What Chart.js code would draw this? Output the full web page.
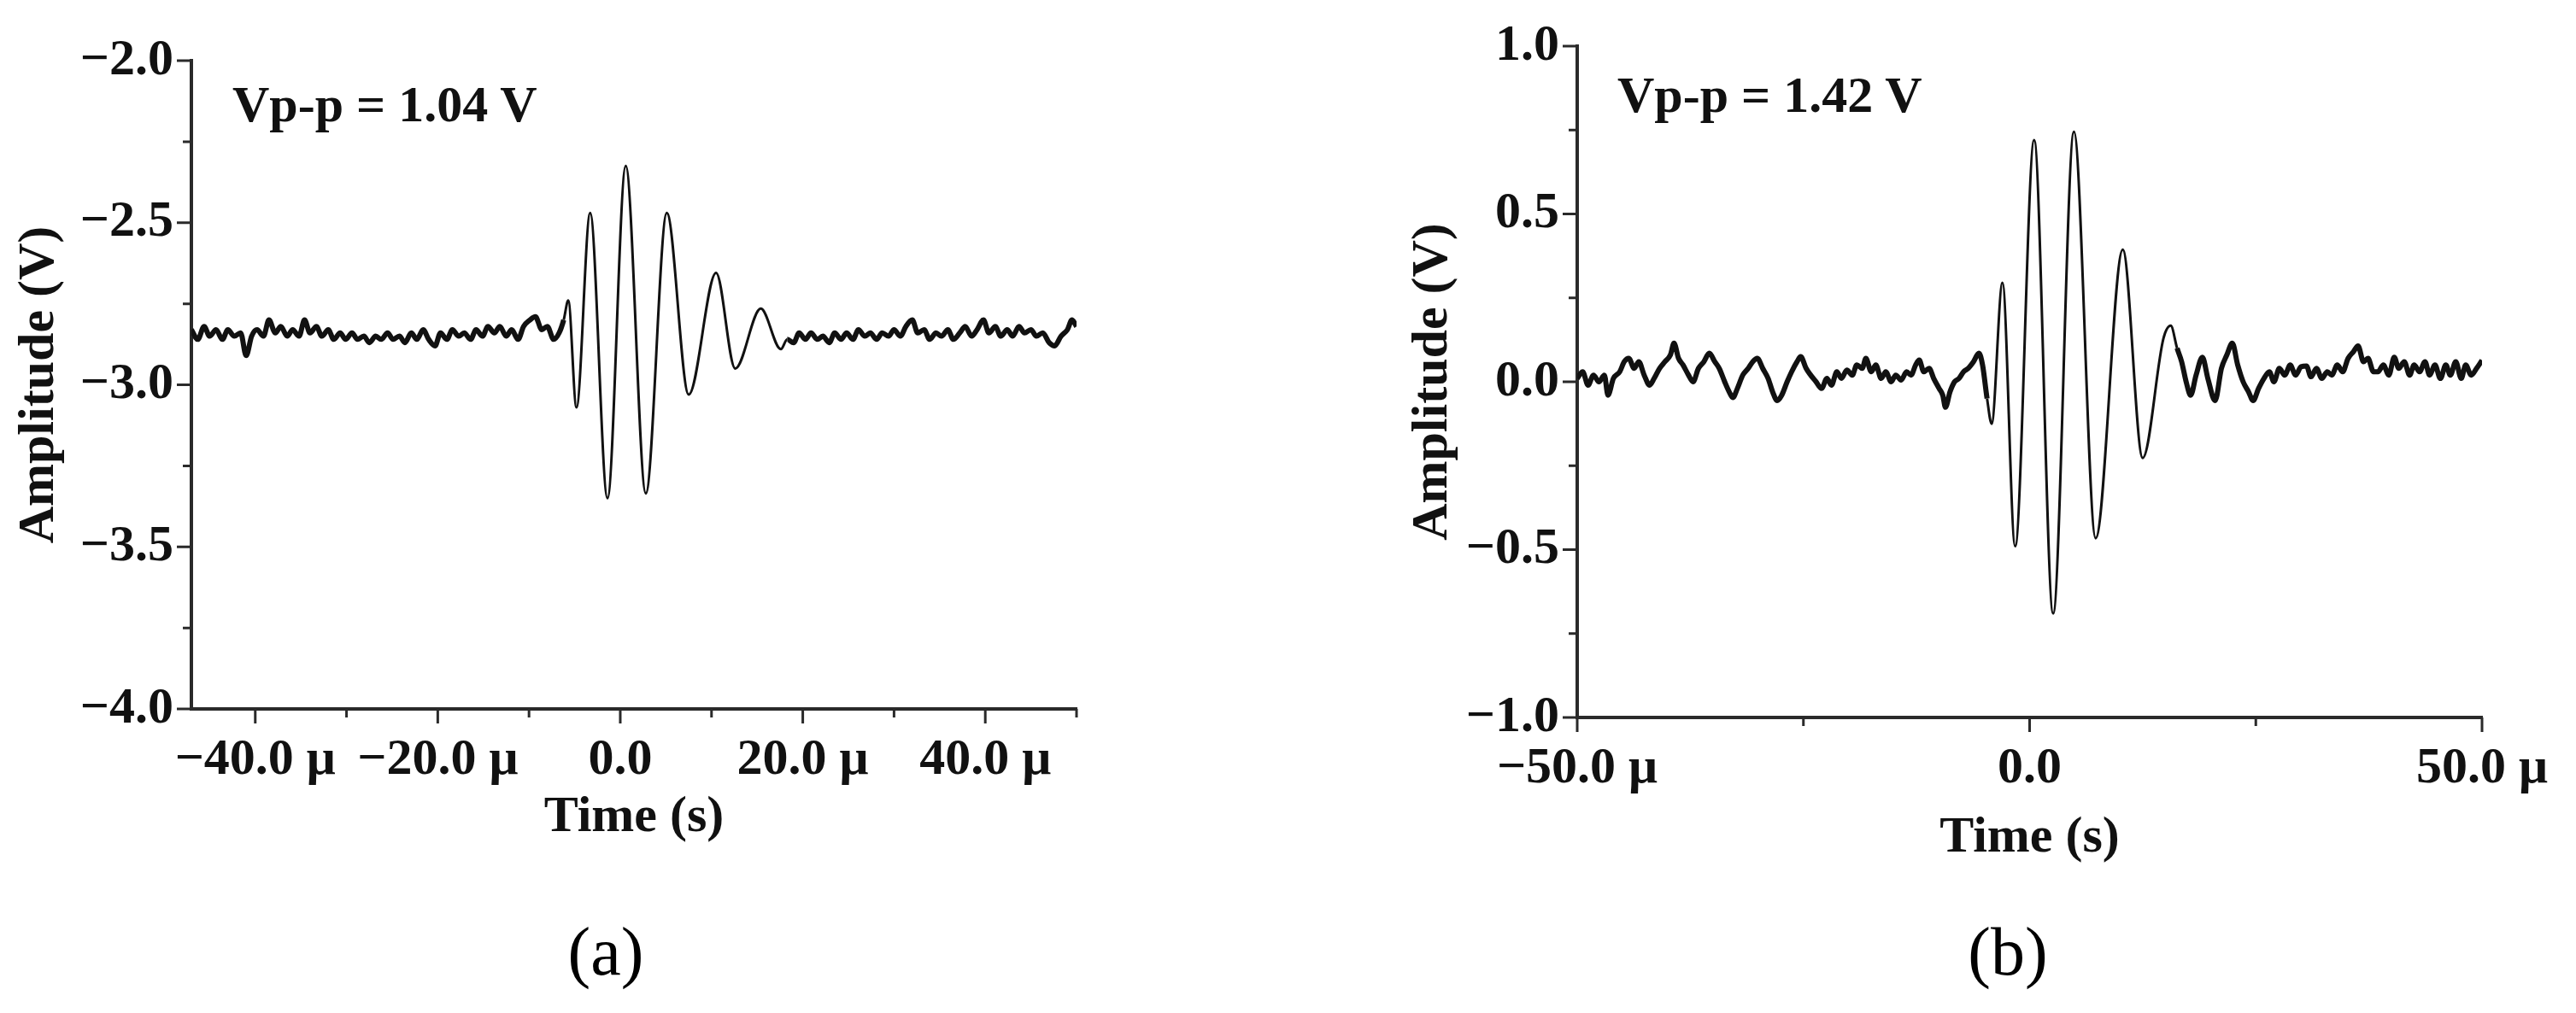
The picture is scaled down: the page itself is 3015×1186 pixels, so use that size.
<!DOCTYPE html>
<html>
<head>
<meta charset="utf-8">
<title>Ultrasonic echo signals</title>
<script src="https://cdn.jsdelivr.net/npm/chart.js@4.4.0/dist/chart.umd.min.js"></script>
<style>
  body { margin: 0; width: 3015px; height: 1186px; background: #fff; position: relative; overflow: hidden; }
  .panel { position: absolute; top: 0; height: 1050px; }
  #panelA { left: 0; width: 1418px; }
  #panelB { left: 1560px; width: 1455px; }
  .note { position: absolute; font: bold 60px/1 "Liberation Serif", serif; color: #111; white-space: nowrap; }
  .caption { position: absolute; font: 80px/1 "Liberation Serif", serif; color: #000; transform: translateX(-50%); white-space: nowrap; }
</style>
</head>
<body>
<div class="panel" id="panelA"><canvas id="chartA"></canvas></div>
<div class="panel" id="panelB"><canvas id="chartB"></canvas></div>
<div class="note" style="left:272px; top:92px;">Vp-p = 1.04 V</div>
<div class="note" style="left:1893px; top:81px;">Vp-p = 1.42 V</div>
<div class="caption" style="left:709px; top:1074px;">(a)</div>
<div class="caption" style="left:2350px; top:1074px;">(b)</div>
<script>
// (a) time in µs, amplitude in V
const timeA = [
  -47, -46.3, -45.6, -45, -44.3, -43.6, -43, -42.3, -41.6, -41, -40.4, -39.8, -39.1, -38.5,
  -37.8, -37.2, -36.5, -35.9, -35.2, -34.6, -34, -33.3, -32.7, -32, -31.4, -30.7, -30.1,
  -29.4, -28.8, -28.1, -27.5, -26.8, -26.2, -25.5, -24.9, -24.2, -23.6, -22.9, -22.3, -21.6,
  -21, -20.3, -19.7, -19, -18.4, -17.7, -17.1, -16.4, -15.8, -15.1, -14.5, -13.8, -13.2,
  -12.5, -11.9, -11.2, -10.6, -9.9, -9.3, -8.6, -8, -7.3, -6.7, -6.2, -5.7,
  -4.8, -3.3, -1.4, 0.6, 2.8, 5.1, 7.5, 10.5, 12.6, 15.4, 17.6,
  18.3, 19, 19.6, 20.3, 20.9, 21.6, 22.2, 22.9, 23.5, 24.2, 24.8, 25.5, 26.1, 26.8, 27.4,
  28.1, 28.7, 29.4, 30, 30.7, 31.3, 32, 32.6, 33.3, 33.9, 34.6, 35.2, 35.9, 36.5, 37.2,
  37.8, 38.5, 39.1, 39.8, 40.4, 41.1, 41.7, 42.4, 43, 43.7, 44.3, 45, 45.6, 46.3, 47,
  47.6, 48.3, 49, 49.5, 50
];
const voltA = [
  -2.83, -2.86, -2.82, -2.85, -2.83, -2.86, -2.83, -2.85, -2.84, -2.91, -2.85, -2.83, -2.85, -2.80,
  -2.84, -2.82, -2.85, -2.83, -2.85, -2.80, -2.84, -2.82, -2.85, -2.83, -2.86, -2.84, -2.86,
  -2.84, -2.86, -2.85, -2.87, -2.85, -2.86, -2.84, -2.86, -2.85, -2.87, -2.84, -2.86, -2.83,
  -2.86, -2.88, -2.84, -2.86, -2.83, -2.85, -2.84, -2.86, -2.83, -2.85, -2.82, -2.84, -2.82,
  -2.85, -2.83, -2.86, -2.82, -2.80, -2.79, -2.83, -2.82, -2.86, -2.84, -2.80, -2.74,
  -3.07, -2.47, -3.35, -2.325, -3.335, -2.47, -3.03, -2.655, -2.95, -2.765, -2.89,
  -2.86, -2.87, -2.84, -2.86, -2.84, -2.86, -2.85, -2.87, -2.84, -2.86, -2.84, -2.86, -2.83, -2.85, -2.84,
  -2.86, -2.84, -2.85, -2.83, -2.85, -2.82, -2.80, -2.84, -2.83, -2.86, -2.84, -2.85, -2.83, -2.86, -2.84,
  -2.82, -2.85, -2.83, -2.80, -2.84, -2.82, -2.85, -2.83, -2.85, -2.82, -2.84, -2.83, -2.85, -2.84, -2.87,
  -2.88, -2.85, -2.83, -2.80, -2.82
];

// (b) time in µs, amplitude in V
const timeB = [
  -50, -49.4, -48.8, -48.2, -47.6, -47, -46.6, -46, -45.3, -44.8, -44.3, -43.7, -43.2, -42.6,
  -42, -41.5, -40.9, -40.3, -39.7, -39.3, -38.8, -38.3, -37.7, -37.2, -36.6, -36, -35.4,
  -34.8, -34.3, -33.7, -33.2, -32.8, -32.3, -31.7, -31.1, -30.6, -30.1, -29.5, -28.9, -28.4,
  -27.9, -27.4, -26.8, -26.3, -25.7, -25.3, -24.7, -24.2, -23.6, -23, -22.4, -21.9, -21.3,
  -20.8, -20.2, -19.6, -19.1, -18.5, -18.1, -17.5, -17, -16.4, -15.9, -15.3, -14.8, -14.2,
  -13.6, -13.1, -12.6, -12.2, -11.7, -11.1, -10.6, -10, -9.6, -9.3, -8.8, -8.3, -7.8, -7.3,
  -6.8, -6.2, -5.6, -5.2, -4.7, -4.2,
  -3.0, -1.6, 0.5, 2.6, 4.9, 7.3, 10.3, 12.5, 14.8, 15.6,
  16.3, 16.8, 17.3, 17.8, 18.4, 19.1, 19.7, 20.5, 21.2, 21.8, 22.4, 23, 23.6, 24.2, 24.7,
  25.3, 25.9, 26.5, 27, 27.6, 28.2, 28.8, 29.4, 30, 30.6, 31.1, 31.7, 32.3, 32.9, 33.4,
  34, 34.6, 35.2, 35.8, 36.3, 36.9, 37.4, 38, 38.5, 39.1, 39.7, 40.3, 40.8, 41.4, 42,
  42.5, 43.1, 43.7, 44.2, 44.8, 45.4, 46, 46.5, 47.1, 47.7, 48.2, 48.8, 49.4, 50
];
const voltB = [
  0.01, 0.03, -0.01, 0.02, 0.0, 0.02, -0.04, 0.01, 0.03, 0.06, 0.07, 0.04, 0.06, 0.02,
  -0.01, 0.01, 0.04, 0.06, 0.08, 0.115, 0.07, 0.05, 0.02, 0.0, 0.04, 0.06, 0.085,
  0.06, 0.04, 0.0, -0.03, -0.047, -0.02, 0.02, 0.04, 0.06, 0.07, 0.04, 0.01, -0.03,
  -0.056, -0.04, 0.0, 0.03, 0.06, 0.075, 0.04, 0.02, 0.0, -0.02, 0.01, -0.01, 0.03,
  0.01, 0.035, 0.02, 0.05, 0.04, 0.07, 0.03, 0.05, 0.01, 0.03, 0.0, 0.02, 0.005,
  0.03, 0.02, 0.05, 0.065, 0.03, 0.04, 0.01, -0.02, -0.04, -0.076, -0.03, 0.0, 0.01, 0.03,
  0.04, 0.06, 0.085, 0.05, -0.05, -0.125,
  0.295, -0.49, 0.72, -0.69, 0.745, -0.466, 0.394, -0.227, 0.13, 0.167,
  0.10, 0.06, 0.0, -0.04, 0.02, 0.073, 0.01, -0.056, 0.04, 0.08, 0.115, 0.05, 0.0, -0.03, -0.056,
  -0.02, 0.01, 0.03, 0.0, 0.04, 0.02, 0.05, 0.02, 0.045, 0.047, 0.015, 0.04, 0.01, 0.03, 0.02,
  0.05, 0.03, 0.07, 0.09, 0.107, 0.06, 0.07, 0.03, 0.03, 0.05, 0.02, 0.073, 0.04, 0.06, 0.02,
  0.05, 0.03, 0.06, 0.02, 0.05, 0.01, 0.05, 0.02, 0.06, 0.01, 0.05, 0.02, 0.04, 0.064
];

// axis ticks
const xTicksA = [-40, -20, 0, 20, 40];
const xMinorA = [-30, -10, 10, 30, 50];
const yTicksA = [-2.0, -2.5, -3.0, -3.5, -4.0];
const yMinorA = [-2.25, -2.75, -3.25, -3.75];
const xTicksB = [-50, 0, 50];
const xMinorB = [-25, 25];
const yTicksB = [1.0, 0.5, 0.0, -0.5, -1.0];
const yMinorB = [0.75, 0.25, -0.25, -0.75];

const INK = "#111";
const AXIS = "#2a2a2a";
const FONT = "'Liberation Serif', 'Times New Roman', serif";

function fmtVolt(v) {
  if (Math.abs(v) < 1e-9) return "0.0";
  return (v < 0 ? "\u2212" : "") + Math.abs(v).toFixed(1);
}
function fmtTime(v) {
  if (Math.abs(v) < 1e-9) return "0.0";
  return (v < 0 ? "\u2212" : "") + Math.abs(v).toFixed(1) + " \u03bc";
}

// draws the outward tick marks (long for labelled, short for minor)
const tickMarks = {
  id: "tickMarks",
  afterDraw(chart, args, opts) {
    const ctx = chart.ctx;
    const xs = chart.scales.x, ys = chart.scales.y;
    const bottom = chart.chartArea.bottom, left = chart.chartArea.left;
    ctx.save();
    ctx.strokeStyle = AXIS;
    ctx.lineWidth = 3;
    ctx.beginPath();
    opts.xMajor.forEach(v => { const p = xs.getPixelForValue(v); ctx.moveTo(p, bottom); ctx.lineTo(p, bottom + 17); });
    opts.xMinor.forEach(v => { const p = xs.getPixelForValue(v); ctx.moveTo(p, bottom); ctx.lineTo(p, bottom + 10); });
    opts.yMajor.forEach(v => { const p = ys.getPixelForValue(v); ctx.moveTo(left, p); ctx.lineTo(left - 17, p); });
    opts.yMinor.forEach(v => { const p = ys.getPixelForValue(v); ctx.moveTo(left, p); ctx.lineTo(left - 10, p); });
    ctx.stroke();
    ctx.restore();
  }
};

function makeScope(id, cfg) {
  const points = cfg.time.map((t, i) => ({ x: t, y: cfg.volt[i] }));
  const bold = { family: FONT, size: 60, weight: "bold" };
  return new Chart(document.getElementById(id), {
    type: "line",
    data: {
      datasets: [{
        data: points,
        borderColor: INK,
        borderWidth: 6,
        pointRadius: 0,
        cubicInterpolationMode: "monotone",
        segment: {
          borderWidth: c => (c.p0.parsed.x >= cfg.packet[0] && c.p1.parsed.x <= cfg.packet[1]) ? 3 : 6
        }
      }]
    },
    options: {
      responsive: true,
      maintainAspectRatio: false,
      animation: false,
      events: [],
      layout: { padding: { left: 0, top: cfg.top, right: cfg.right, bottom: 0 } },
      plugins: {
        legend: { display: false },
        tooltip: { enabled: false },
        tickMarks: { xMajor: cfg.xTicks, xMinor: cfg.xMinor, yMajor: cfg.yTicks, yMinor: cfg.yMinor }
      },
      scales: {
        x: {
          type: "linear",
          min: cfg.xMin,
          max: cfg.xMax,
          afterBuildTicks: s => { s.ticks = cfg.xTicks.map(v => ({ value: v })); },
          afterFit: s => { s.height = cfg.xAxisH; s.paddingLeft = 0; s.paddingRight = 0; },
          grid: { display: false, drawTicks: false },
          border: { display: true, color: AXIS, width: 4 },
          ticks: { padding: 24, maxRotation: 0, autoSkip: false, color: INK, font: bold, callback: v => fmtTime(v) },
          title: { display: true, text: "Time (s)", color: INK, font: bold, padding: { top: 0, bottom: cfg.xTitlePad } }
        },
        y: {
          min: cfg.yMin,
          max: cfg.yMax,
          afterBuildTicks: s => { s.ticks = cfg.yTicks.map(v => ({ value: v })); },
          afterFit: s => { s.width = cfg.yAxisW; s.paddingTop = 0; s.paddingBottom = 0; },
          grid: { display: false, drawTicks: false },
          border: { display: true, color: AXIS, width: 4 },
          ticks: { padding: 21, autoSkip: false, color: INK, font: bold, callback: v => fmtVolt(v) },
          title: { display: true, text: "Amplitude (V)", color: INK, font: bold, padding: { top: cfg.yTitlePad, bottom: 0 } }
        }
      }
    },
    plugins: [tickMarks]
  });
}

makeScope("chartA", {
  time: timeA, volt: voltA, packet: [-6.2, 18.3],
  xMin: -47, xMax: 50, yMin: -4, yMax: -2,
  xTicks: xTicksA, xMinor: xMinorA, yTicks: yTicksA, yMinor: yMinorA,
  top: 71, right: 158, xAxisH: 220, yAxisW: 224, xTitlePad: 57, yTitlePad: 10
});

makeScope("chartB", {
  time: timeB, volt: voltB, packet: [-4.7, 16.3],
  xMin: -50, xMax: 50, yMin: -1, yMax: 1,
  xTicks: xTicksB, xMinor: xMinorB, yTicks: yTicksB, yMinor: yMinorB,
  top: 54, right: 110, xAxisH: 210, yAxisW: 286, xTitlePad: 33, yTitlePad: 81
});
</script>
</body>
</html>
